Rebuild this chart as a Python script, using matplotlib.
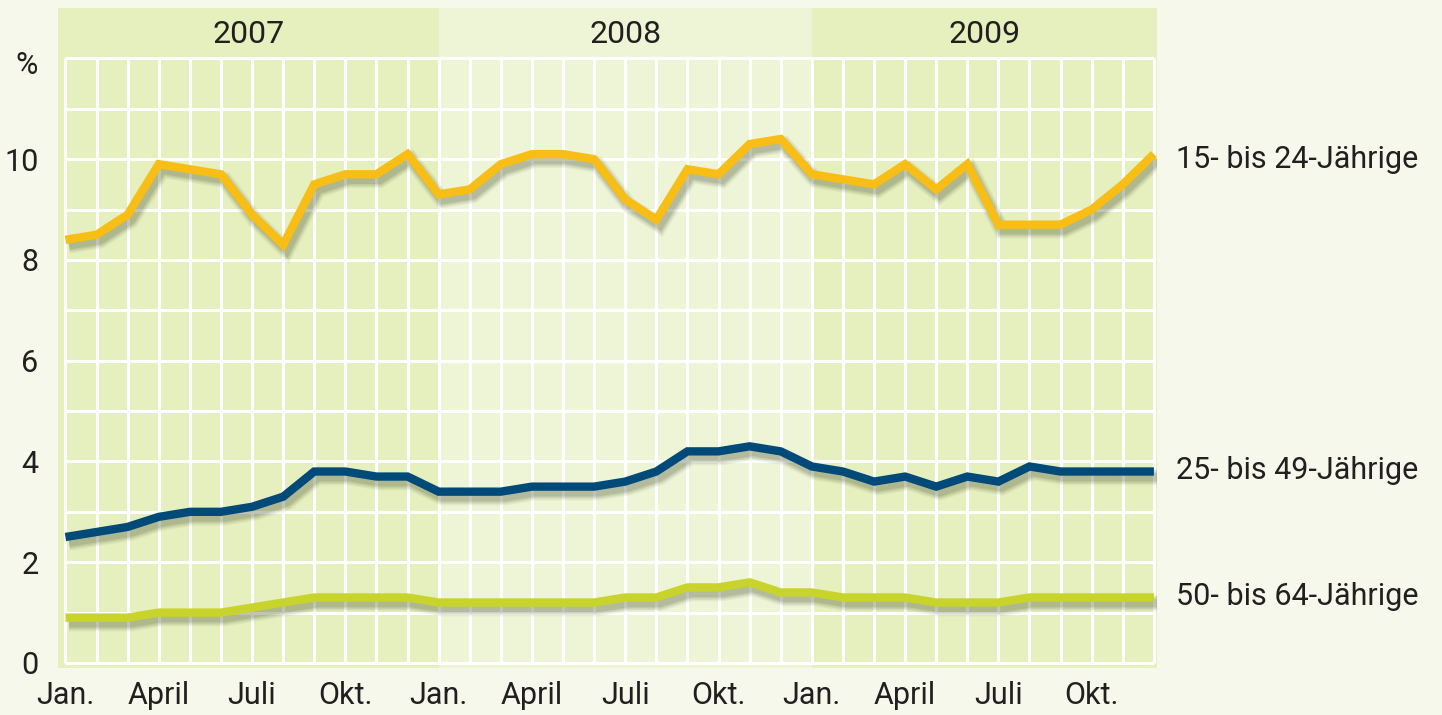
import matplotlib
matplotlib.use("Agg")
import matplotlib.pyplot as plt
import matplotlib.patheffects as pe

# Arbeitslosenquote nach Altersgruppen, monatlich Jan. 2007 - Dez. 2009 (in %)
months = list(range(36))
years = ["2007", "2008", "2009"]
month_labels = ["Jan.", "April", "Juli", "Okt."] * 3
y_ticks = [0, 2, 4, 6, 8, 10]

series_names = ["15- bis 24-Jährige", "25- bis 49-Jährige", "50- bis 64-Jährige"]
youth = [8.4, 8.5, 8.9, 9.9, 9.8, 9.7, 8.9, 8.3, 9.5, 9.7, 9.7, 10.1,
         9.3, 9.4, 9.9, 10.1, 10.1, 10.0, 9.2, 8.8, 9.8, 9.7, 10.3, 10.4,
         9.7, 9.6, 9.5, 9.9, 9.4, 9.9, 8.7, 8.7, 8.7, 9.0, 9.5, 10.1]
middle = [2.5, 2.6, 2.7, 2.9, 3.0, 3.0, 3.1, 3.3, 3.8, 3.8, 3.7, 3.7,
          3.4, 3.4, 3.4, 3.5, 3.5, 3.5, 3.6, 3.8, 4.2, 4.2, 4.3, 4.2,
          3.9, 3.8, 3.6, 3.7, 3.5, 3.7, 3.6, 3.9, 3.8, 3.8, 3.8, 3.8]
older = [0.9, 0.9, 0.9, 1.0, 1.0, 1.0, 1.1, 1.2, 1.3, 1.3, 1.3, 1.3,
         1.2, 1.2, 1.2, 1.2, 1.2, 1.2, 1.3, 1.3, 1.5, 1.5, 1.6, 1.4,
         1.4, 1.3, 1.3, 1.3, 1.2, 1.2, 1.2, 1.3, 1.3, 1.3, 1.3, 1.3]

colors = ["#f8be15", "#004a7a", "#c8d42b"]
label_dy = [-4, 1, 1]  # vertical nudge of the end labels (points)
bg = "#f5f8ea"
band_dark = "#e6efbe"
band_light = "#eef4d6"
text_col = "#231f20"

plt.rcParams["font.family"] = ["Roboto", "DejaVu Sans"]
plt.rcParams["font.size"] = 22

fig = plt.figure(figsize=(14.42, 7.15), dpi=100, facecolor=bg)
ax = fig.add_axes([58 / 1442, 47 / 715, 1099 / 1442, 660 / 715])
ax.set_facecolor(bg)
x_lo, x_hi = -0.24, 35.1
ax.set_xlim(x_lo, x_hi)
ax.set_ylim(-0.1, 13.0)

# year columns
edges = [x_lo, 12, 24, x_hi]
for i, year in enumerate(years):
    ax.axvspan(edges[i], edges[i + 1], color=band_dark if i != 1 else band_light,
               lw=0, zorder=0)
    ax.text((edges[i] + edges[i + 1]) / 2, 12.48, year, ha="center", va="center",
            color=text_col, fontsize=23)

# white grid
ax.vlines(months, 0, 12, color="white", lw=2.2, zorder=1)
ax.hlines(range(13), 0, 35, color="white", lw=2.2, zorder=1)

# soft drop shadow: a few widening, faint shadow strokes
shadow = [pe.SimpleLineShadow(offset=(2.5, -4), shadow_color="#3c4525",
                              alpha=a, linewidth=w)
          for a, w in [(0.06, 12), (0.08, 10), (0.1, 8), (0.12, 6)]]

for values, c, name, dy in zip([youth, middle, older], colors, series_names, label_dy):
    ax.plot(months, values, color=c, lw=6, solid_joinstyle="miter",
            solid_capstyle="butt", zorder=3,
            path_effects=shadow + [pe.Normal()])
    ax.annotate(name, xy=(months[-1], values[-1]), xytext=(16, dy),
                textcoords="offset points", ha="left", va="center",
                color=text_col, fontsize=22, annotation_clip=False)

ax.set_xticks(months[::3], month_labels)
ax.set_yticks(y_ticks)
ax.tick_params(length=0, colors=text_col, labelsize=22)
ax.tick_params(axis="x", pad=9)
ax.tick_params(axis="y", pad=14)
for s in ax.spines.values():
    s.set_visible(False)

fig.text(38 / 1442, 1 - 66 / 715, "%", ha="right", va="center",
         color=text_col, fontsize=22)

fig.savefig("out.png", dpi=100, facecolor=bg)
